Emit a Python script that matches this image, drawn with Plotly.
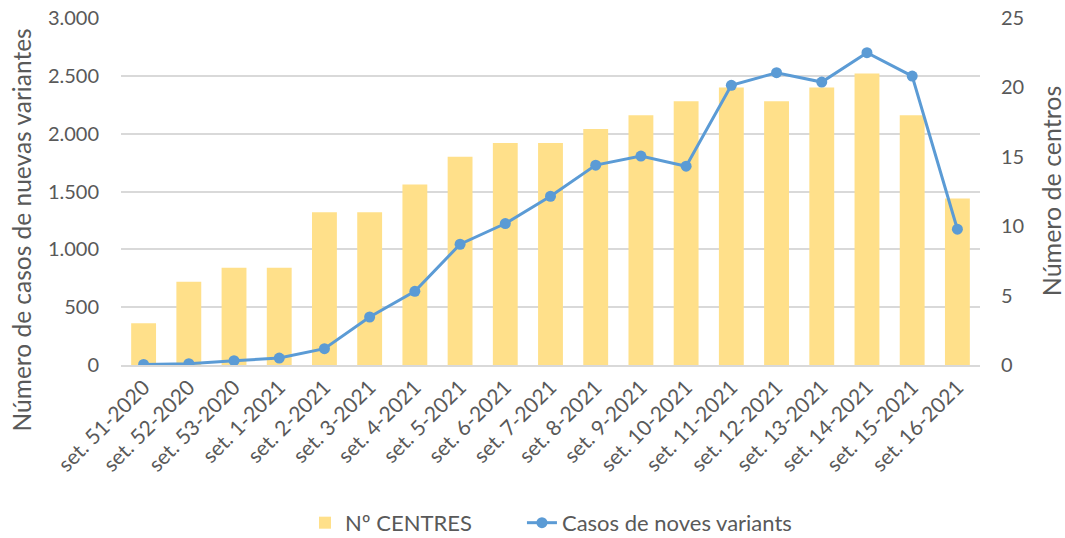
import plotly.graph_objects as go

# setmanes epidemiològiques
setmanes = ["set. 51-2020", "set. 52-2020", "set. 53-2020", "set. 1-2021", "set. 2-2021",
            "set. 3-2021", "set. 4-2021", "set. 5-2021", "set. 6-2021", "set. 7-2021",
            "set. 8-2021", "set. 9-2021", "set. 10-2021", "set. 11-2021", "set. 12-2021",
            "set. 13-2021", "set. 14-2021", "set. 15-2021", "set. 16-2021"]

# Nº de centres (eix dret)
centres = [3, 6, 7, 7, 11, 11, 13, 15, 16, 16, 17, 18, 19, 20, 19, 20, 21, 18, 12]

# casos de noves variants (eix esquerre)
casos = [5, 11, 37, 60, 141, 415, 637, 1044, 1223, 1459, 1728, 1806, 1719,
         2418, 2527, 2446, 2700, 2498, 1174]

gris = "#595959"
fnt = "Lato, 'Open Sans', sans-serif"

fig = go.Figure()

fig.add_trace(go.Bar(
    x=setmanes, y=centres, name="Nº CENTRES" + "\u00a0" * 8, yaxis="y2",
    marker=dict(color="#FFE08A", line=dict(width=0)),
))

fig.add_trace(go.Scatter(
    x=setmanes, y=casos, name="Casos de noves variants", yaxis="y",
    mode="lines+markers",
    line=dict(color="#5B9BD5", width=3),
    marker=dict(color="#5B9BD5", size=11),
))

fig.update_layout(
    width=1065, height=538,
    margin=dict(l=121, r=85, t=18, b=173, autoexpand=False),
    paper_bgcolor="white", plot_bgcolor="white",
    separators=",.",
    font=dict(family=fnt, color=gris, size=20),
    bargap=0.45,
    showlegend=True,
    legend=dict(orientation="h", x=0.2142, xanchor="left", y=-0.455, yanchor="middle",
                font=dict(size=22, color=gris), traceorder="normal"),
    xaxis=dict(
        range=[-0.5, len(setmanes) - 0.5],
        tickangle=-45, tickfont=dict(size=21, color=gris),
        showgrid=False, showline=True, linecolor="#D9D9D9", linewidth=1.5,
        ticks="", automargin=False,
    ),
    yaxis=dict(
        range=[0, 3000], dtick=500, tickformat=",d",
        showgrid=True, gridcolor="#D9D9D9", gridwidth=1.5,
        zeroline=False, ticks="", automargin=False,
        tickfont=dict(size=20, color=gris), ticklabelstandoff=21,
        overlaying="y2",
    ),
    yaxis2=dict(
        range=[0, 25], dtick=5, side="right",
        showgrid=False, zeroline=False, ticks="", automargin=False,
        tickfont=dict(size=20, color=gris), ticklabelstandoff=20,
    ),
    annotations=[
        dict(text="Número de casos de nuevas variantes", xref="paper", yref="paper",
             x=-0.1164, y=0.388, textangle=-90, showarrow=False,
             font=dict(size=24.5, color=gris), xanchor="center", yanchor="middle"),
        dict(text="Número de centros", xref="paper", yref="paper",
             x=1.0827, y=0.501, textangle=-90, showarrow=False,
             font=dict(size=25, color=gris), xanchor="center", yanchor="middle"),
    ],
)

# treu el marge per defecte del body perquè la figura quedi a (0, 0)
fig.write_html("out.html", config={"displayModeBar": False},
               post_script="document.body.style.margin='0';")
